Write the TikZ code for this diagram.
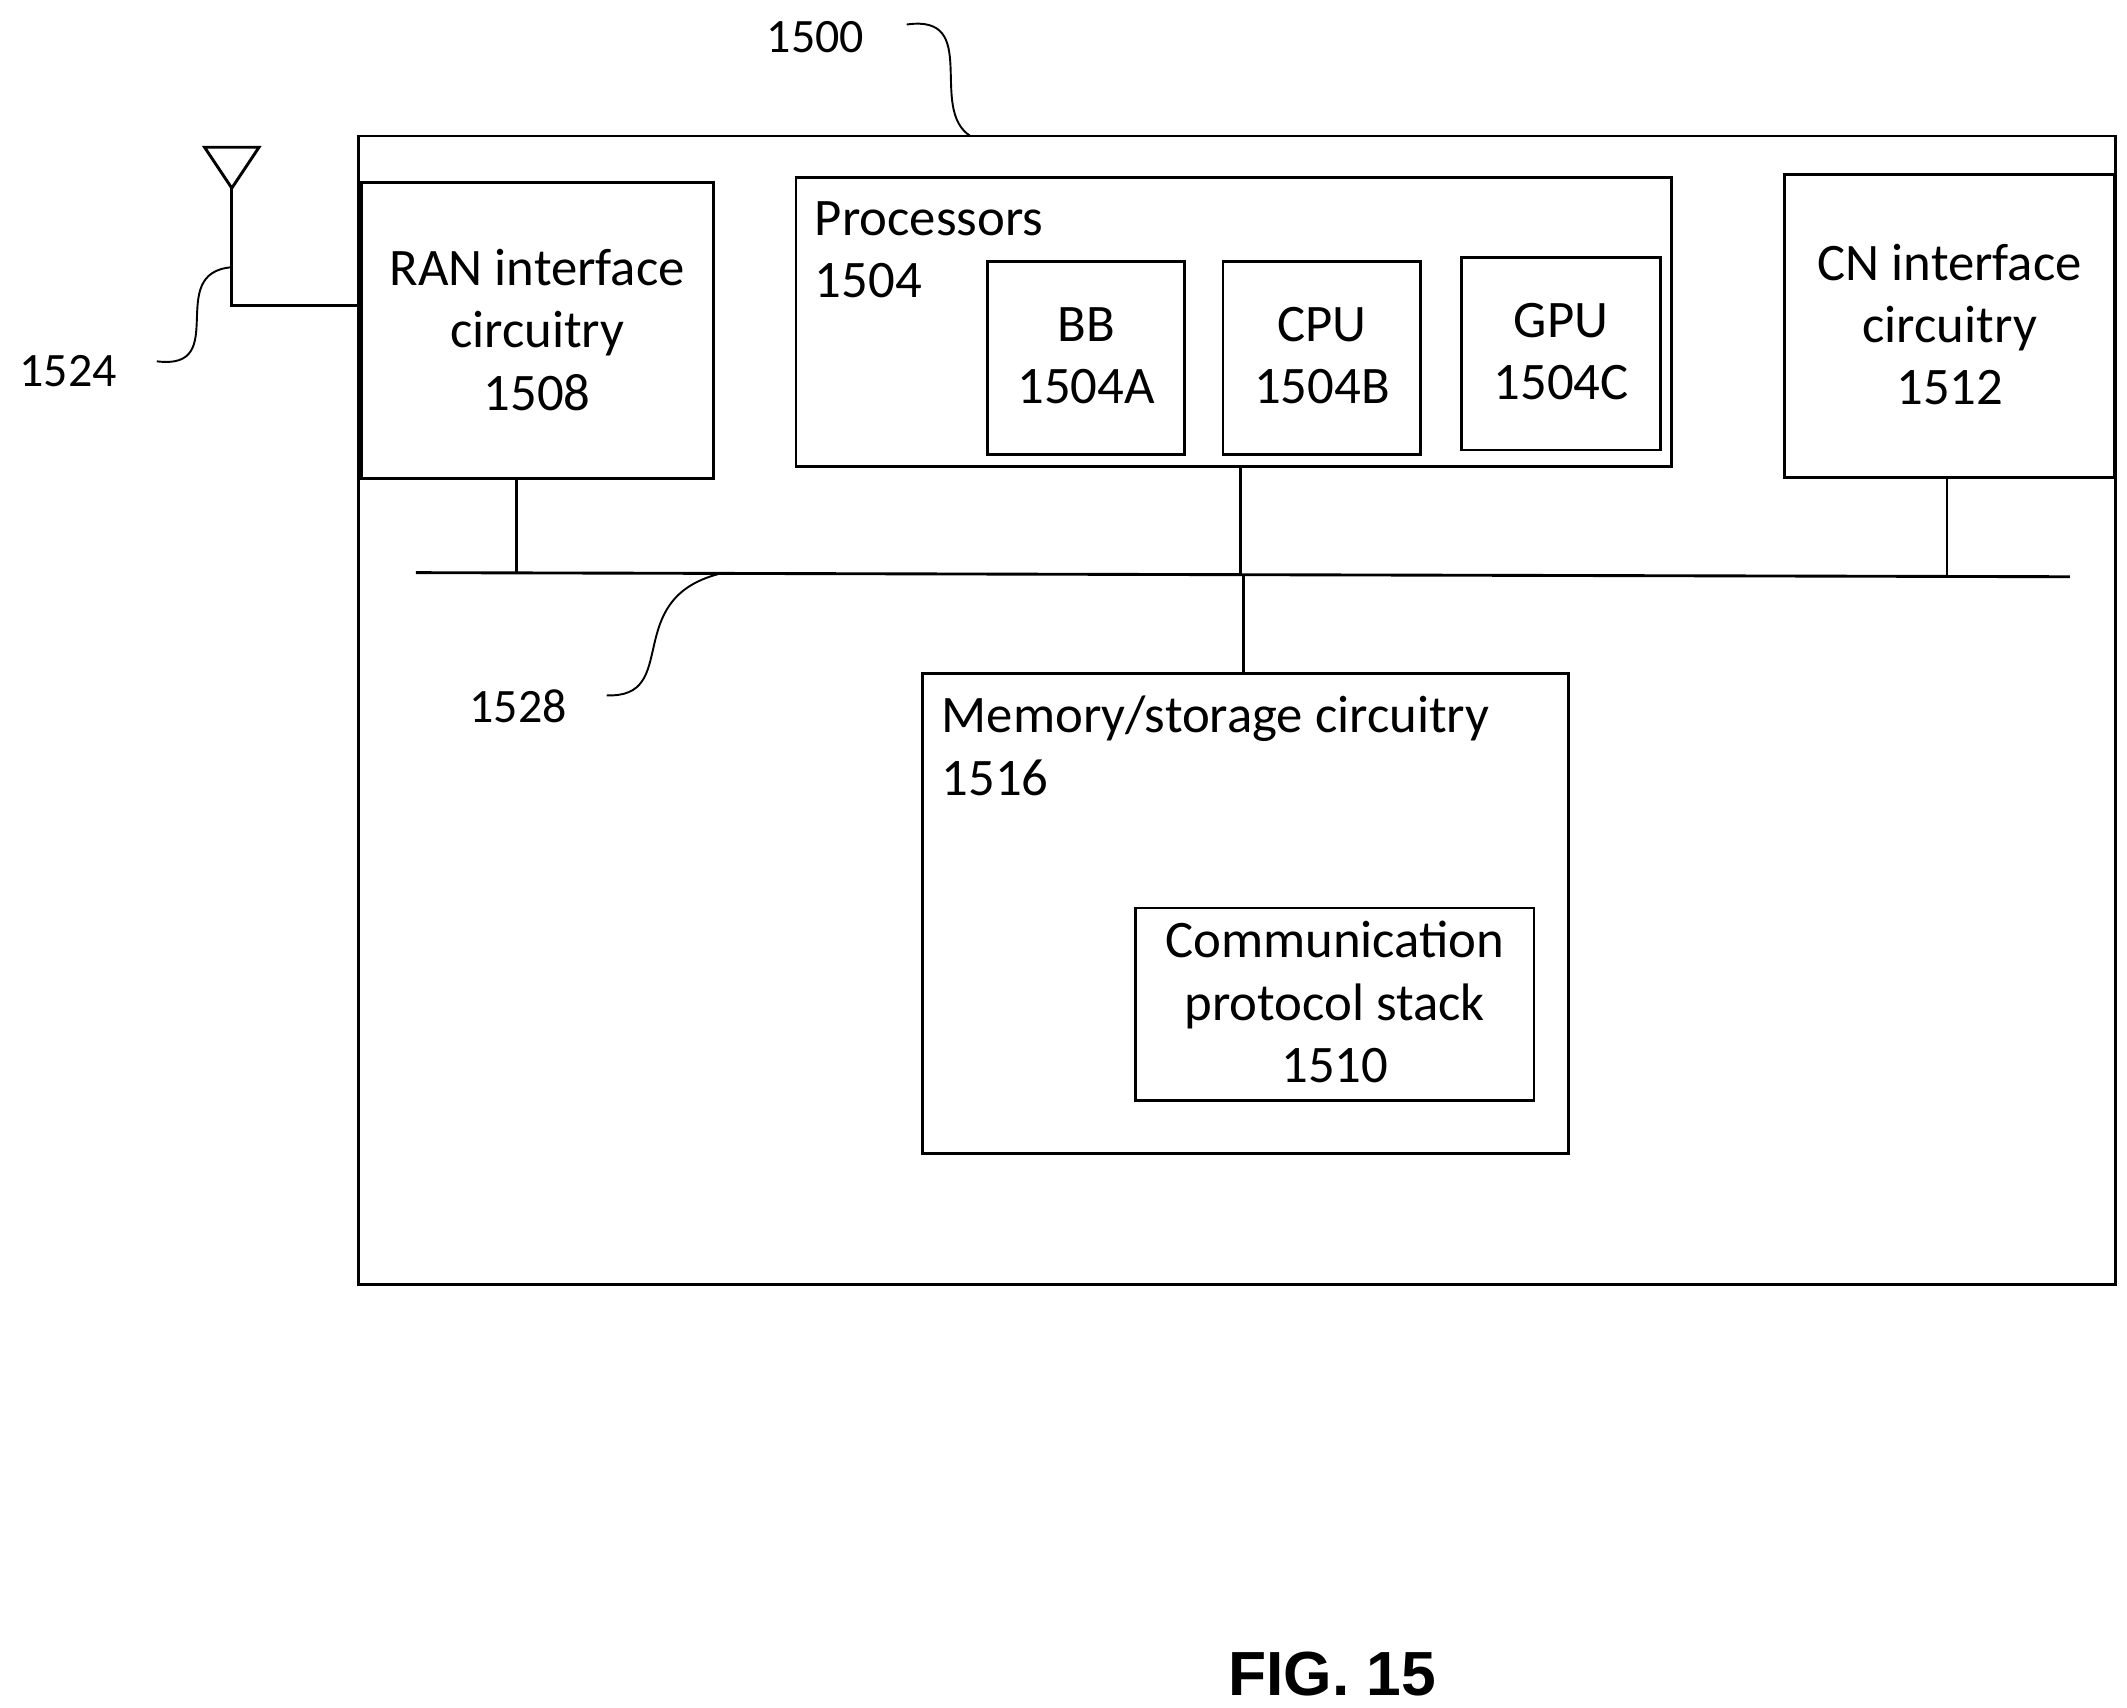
\documentclass[tikz,border=0pt]{standalone}
\usepackage{fontspec}
\setmainfont{Carlito}
\newfontfamily\figfont{Liberation Sans}
\usetikzlibrary{positioning}
\tikzstyle{box}=[draw,semithick,inner sep=0pt]
\tikzstyle{lbl}=[font=\fontsize{11}{13}\selectfont,align=center,inner sep=0pt]
\tikzstyle{lbll}=[lbl,align=left,anchor=north west]
\tikzstyle{num}=[font=\fontsize{10}{12}\selectfont,inner sep=0pt]
\tikzstyle{lead}=[thin]
\begin{document}
\begin{tikzpicture}[x=0.01cm,y=-0.01cm]
\useasboundingbox (0,0) rectangle (1560,1252);
% outer box
\node[box,minimum width=12.88cm,minimum height=8.42cm] (dev) at (907,521) {};
% RAN / CN interfaces
\node[box,minimum width=2.58cm,minimum height=2.17cm] (ran) at (394,242.5) {};
\node[lbl] (ranT) at (394,242) {RAN interface\\circuitry\\1508};
\node[box,minimum width=2.42cm,minimum height=2.22cm] (cn) at (1430,239) {};
\node[lbl] (cnT) at (1430,238) {CN interface\\circuitry\\1512};
% processors
\node[box,minimum width=6.42cm,minimum height=2.12cm] (proc) at (905,236) {};
\node[lbll] (procT) at (597,147) {Processors\\1504};
\node[box,minimum width=1.45cm,minimum height=1.41cm] (bb) at (796.5,262.5) {};
\node[lbl] (bbT) at (796.5,261) {BB\\1504A};
\node[box,minimum width=1.45cm,minimum height=1.41cm] (cpu) at (969.5,262.5) {};
\node[lbl] (cpuT) at (969.5,261) {CPU\\1504B};
\node[box,minimum width=1.46cm,minimum height=1.41cm] (gpu) at (1145,259.5) {};
\node[lbl] (gpuT) at (1145,258) {GPU\\1504C};
% memory
\node[box,minimum width=4.73cm,minimum height=3.52cm] (mem) at (913.5,670) {};
\node[lbll] (memT) at (690,510) {Memory/storage circuitry\\1516};
\node[box,minimum width=2.92cm,minimum height=1.41cm] (comm) at (979,736.5) {};
\node[lbl] (commT) at (979,735) {Communication\\protocol stack\\1510};
% bus
\coordinate (busL) at (305,420);
\coordinate (busR) at (1518,423);
\draw[semithick] (busL) -- (busR);
\coordinate (bus1) at (379,420);
\coordinate (bus2) at (910,421);
\coordinate (bus3) at (912,421);
\coordinate (bus4) at (1428,423);
\draw[semithick] (ran.south -| bus1) -- (bus1);
\draw[semithick] (proc.south -| bus2) -- (bus2);
\draw[semithick] (bus3) -- (mem.north -| bus3);
\draw[semithick] (cn.south -| bus4) -- (bus4);
% antenna
\coordinate (antL) at (150,108);
\coordinate (antR) at (190,108);
\coordinate (antA) at (170,138);
\coordinate (antB) at (170,224);
\draw[semithick] (antL) -- (antR) -- (antA) -- cycle;
\draw[semithick] (antA) -- (antB) -- (antB -| ran.west);
% reference numerals
\node[num] (n1500) at (598,27) {1500};
\node[num] (n1524) at (50,272) {1524};
\node[num] (n1528) at (380,518) {1528};
\node[font=\figfont\bfseries\fontsize{13}{15}\selectfont,inner sep=0pt] (fig) at (977,1228) {FIG. 15};
\coordinate (t1500) at (712,100);
\coordinate (t1524) at (170,196);
\coordinate (t1528) at (527,421);
\draw[lead] (665,18) .. controls (720,10) and (680,80) .. (t1500);
\draw[lead] (115,265) .. controls (170,272) and (120,200) .. (t1524);
\draw[lead] (445,510) .. controls (500,512) and (455,440) .. (t1528);
\end{tikzpicture}
\end{document}
